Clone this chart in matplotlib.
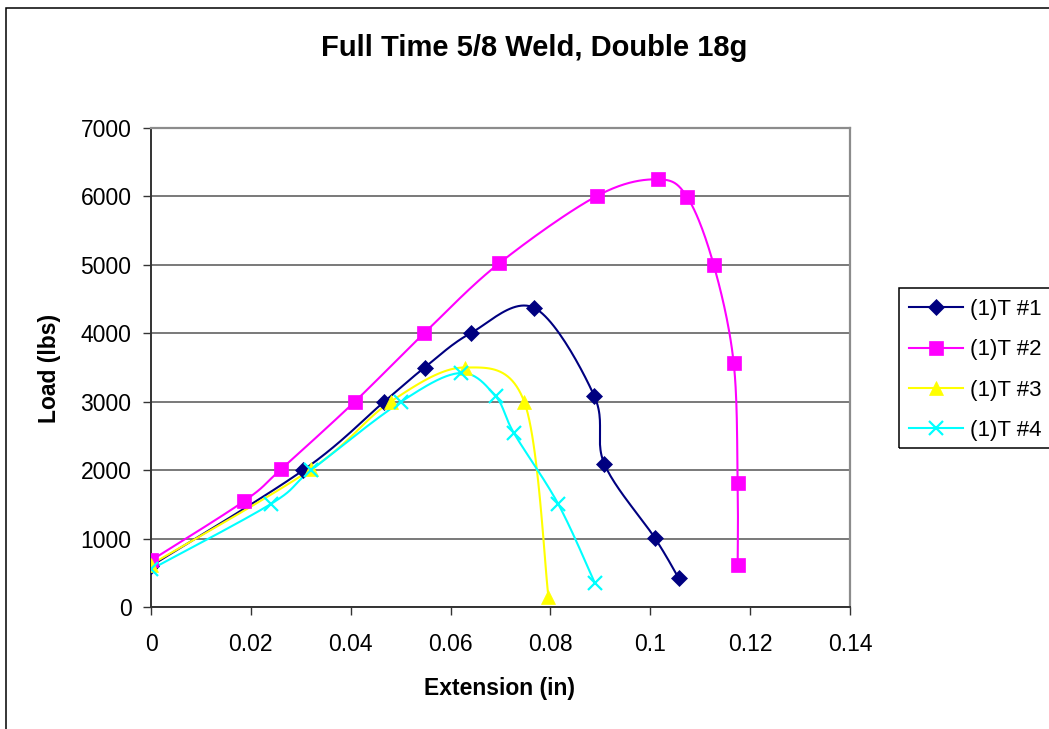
import numpy as np
import matplotlib
matplotlib.use("Agg")
import matplotlib.pyplot as plt
from matplotlib.patches import Rectangle
from matplotlib.lines import Line2D

plt.rcParams['font.family'] = ['Liberation Sans', 'DejaVu Sans']

# Extension (in) and load (lbs) for each test
t1_x = [0.0, 0.0305, 0.0467, 0.0548, 0.0640, 0.0768, 0.0888, 0.0908, 0.1009, 0.1057]
t1_y = [600, 2000, 3000, 3500, 4000, 4370, 3080, 2090, 1010, 420]

t2_x = [0.0, 0.0187, 0.0260, 0.0408, 0.0547, 0.0697, 0.0894, 0.1015, 0.1074, 0.1127, 0.1167, 0.1175, 0.1175]
t2_y = [680, 1550, 2010, 3000, 4000, 5020, 6010, 6250, 5990, 5000, 3570, 1810, 610]

t3_x = [0.0, 0.0320, 0.0480, 0.0628, 0.0748, 0.0796]
t3_y = [620, 2010, 3000, 3500, 2990, 150]

t4_x = [0.0, 0.0241, 0.0321, 0.0501, 0.0620, 0.0690, 0.0727, 0.0816, 0.0889]
t4_y = [550, 1510, 2000, 3000, 3420, 3080, 2540, 1500, 350]

labels = ["(1)T #1", "(1)T #2", "(1)T #3", "(1)T #4"]
colors = ["#000080", "#FF00FF", "#FFFF00", "#00FFFF"]
markers = ["D", "s", "^", "x"]

x_ticks = [0, 0.02, 0.04, 0.06, 0.08, 0.1, 0.12, 0.14]
x_tick_labels = ["0", "0.02", "0.04", "0.06", "0.08", "0.1", "0.12", "0.14"]
y_ticks = [0, 1000, 2000, 3000, 4000, 5000, 6000, 7000]


def smooth(xs, ys, n=24):
    """Bezier smoothing through every point (Catmull-Rom style tangents)."""
    p = np.column_stack([xs, ys]).astype(float)
    if len(p) < 3:
        return p[:, 0], p[:, 1]
    ext = np.vstack([p[0], p, p[-1]])
    out = [p[0]]
    t = np.linspace(0, 1, n + 1)[1:][:, None]
    for i in range(1, len(ext) - 2):
        p0, p1, p2, p3 = ext[i - 1], ext[i], ext[i + 1], ext[i + 2]
        c1 = p1 + (p2 - p0) / 6.0
        c2 = p2 - (p3 - p1) / 6.0
        seg = ((1 - t) ** 3) * p1 + 3 * ((1 - t) ** 2) * t * c1 + 3 * (1 - t) * t ** 2 * c2 + t ** 3 * p2
        out.extend(seg)
    out = np.array(out)
    return out[:, 0], out[:, 1]


W, H = 1049, 729
fig = plt.figure(figsize=(W / 100, H / 100), dpi=100)

# outer chart frame
fig.patches.append(Rectangle((6 / W, -0.05), 1.2, (H - 7.5) / H + 0.05,
                             transform=fig.transFigure, fill=False,
                             edgecolor="black", linewidth=1.1))

ax = fig.add_axes([151 / W, 1 - 607 / H, (850 - 151) / W, (607 - 128) / H])

series = [(t1_x, t1_y), (t2_x, t2_y), (t3_x, t3_y), (t4_x, t4_y)]
handles = []
for (xs, ys), lab, col, mk in zip(series, labels, colors, markers):
    sx, sy = smooth(xs, ys)
    ax.plot(sx, sy, color=col, lw=1.5, zorder=3)
    ms = {"D": 8.5, "s": 9.5, "^": 10, "x": 9.5}[mk]
    mew = 1.6 if mk == "x" else 0.5
    ax.plot(xs, ys, linestyle="none", marker=mk, color=col, markersize=ms,
            markeredgecolor=col, markeredgewidth=mew, zorder=4)
    handles.append(Line2D([], [], color=col, lw=1.5, marker=mk, markersize=ms,
                          markeredgecolor=col, markeredgewidth=mew, label=lab))

ax.set_xlim(0, 0.14)
ax.set_ylim(0, 7000)
ax.set_xticks(x_ticks)
ax.set_xticklabels(x_tick_labels)
ax.set_yticks(y_ticks)
ax.yaxis.grid(True, color="#555555", lw=1.1)
ax.set_axisbelow(True)

for s in ("top", "right"):
    ax.spines[s].set_color("#8c8c8c")
    ax.spines[s].set_linewidth(1.6)
for s in ("left", "bottom"):
    ax.spines[s].set_color("#333333")
    ax.spines[s].set_linewidth(1.4)

ax.tick_params(axis="both", direction="out", length=6, width=1, color="#333333",
               labelsize=16.5)
ax.tick_params(axis="x", pad=13)
ax.tick_params(axis="y", pad=8)

fig.text(534 / W, 1 - 56.5 / H, "Full Time 5/8 Weld, Double 18g", fontsize=21,
         fontweight="bold", ha="center", va="baseline")
fig.text(500 / W, 1 - 695 / H, "Extension (in)", fontsize=16.5, fontweight="bold",
         ha="center", va="baseline")
fig.text(49.5 / W, 1 - 368 / H, "Load (lbs)", fontsize=16.5, fontweight="bold",
         ha="center", va="center", rotation=90)

# legend box
fig.patches.append(Rectangle((899 / W, 1 - 448 / H), 0.3, 160 / H,
                             transform=fig.transFigure, fill=False,
                             edgecolor="black", linewidth=1.1))
fig.legend(handles=handles, loc="center left", bbox_to_anchor=(909 / W, 1 - 370 / H),
           frameon=False, fontsize=16, handlelength=2.45, handletextpad=0.3,
           labelspacing=0.87, borderpad=0, borderaxespad=0)

fig.savefig("out.png", dpi=100)
